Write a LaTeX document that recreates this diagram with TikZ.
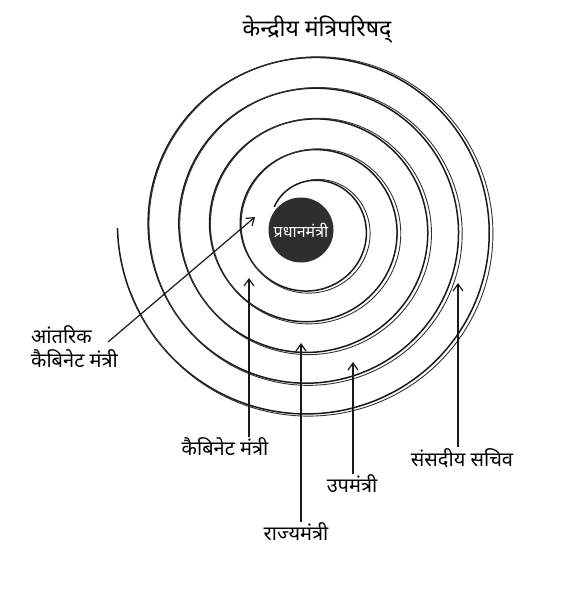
\documentclass[tikz,border=0pt]{standalone}
\usepackage{fontspec}
\newfontfamily\deva[Script=Devanagari]{Noto Sans}
\usetikzlibrary{arrows.meta}
\begin{document}
\begin{tikzpicture}[x=1pt,y=-1pt,
  spiral/.style={line width=1.5pt, black!90},
  spiraltwin/.style={line width=0.9pt, black!80},
  arr/.style={line width=1.2pt, black!90, -{Straight Barb[length=7pt,width=10pt,line width=1.2pt]}},
  lbl/.style={font=\deva\fontsize{20}{24}\selectfont, inner sep=1pt, text=black}]
\useasboundingbox (0,0) rectangle (580,599);
\fill[white] (0,0) rectangle (580,599);
% spiral
\draw[spiral] plot[domain=-60:1710, samples=500, variable=\t, smooth]
  ({311 + (47.5 + 0.085417*\t)*sin(\t)}, {228 - (47.5 + 0.085417*\t)*cos(\t)});
\draw[spiraltwin] plot[domain=0:1690, samples=500, variable=\t, smooth]
  ({311 + (46.5 + 0.085417*\t + 2.4*(1+sin(\t-20)))*sin(\t)}, {228 - (46.5 + 0.085417*\t + 2.4*(1+sin(\t-20)))*cos(\t)});
% prime minister disk
\node[circle, fill=black!82, minimum size=65pt, inner sep=0pt, text=white,
  font=\deva\bfseries\fontsize{16}{18}\selectfont] (pm) at (301,230) {प्रधानमंत्री};
% title
\node[lbl, font=\deva\fontsize{23}{26}\selectfont] (title) at (317,30) {केन्द्रीय मंत्रिपरिषद्};
% labels
\node[lbl, align=left, anchor=west] (inner) at (30,347) {आंतरिक\\कैबिनेट मंत्री};
\node[lbl] (cab) at (225,447) {कैबिनेट मंत्री};
\node[lbl] (rajya) at (296,532) {राज्यमंत्री};
\node[lbl] (up) at (352,484) {उपमंत्री};
\node[lbl] (sans) at (462,458) {संसदीय सचिव};
% arrow heads and tails
\coordinate (t1) at (108,342);
\coordinate (h1) at (255,217);
\coordinate (h2) at (249,278);
\coordinate (h3) at (301,343);
\coordinate (h4) at (353,362);
\coordinate (h5) at (458,283);
\draw[arr] (t1) -- (h1);
\draw[arr] (cab.north -| h2) -- (h2);
\draw[arr] (rajya.north -| h3) -- (h3);
\draw[arr] (up.north -| h4) -- (h4);
\draw[arr] (sans.north -| h5) -- (h5);
\end{tikzpicture}
\end{document}
